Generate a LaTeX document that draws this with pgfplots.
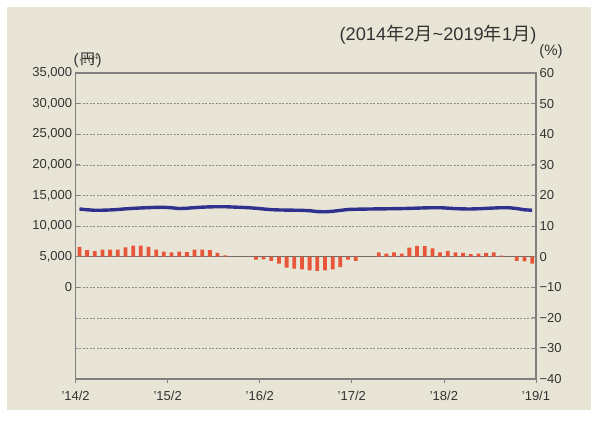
\documentclass[border=0pt]{standalone}
\usepackage{pgfplots}
\pgfplotsset{compat=1.18}
\usepackage{fontspec}
\setmainfont{Liberation Sans}
\newfontfamily\cjk{Noto Sans CJK JP}
\definecolor{panel}{HTML}{E9E5D6}
\definecolor{navy}{HTML}{30318F}
\definecolor{barred}{HTML}{E8563A}
\definecolor{axgray}{HTML}{808080}
\definecolor{txt}{HTML}{333333}
\pgfplotsset{
  base/.style={
    at={(75.6pt,42pt)}, anchor=south west,
    width=460.4pt, height=306pt, scale only axis,
    xmin=0, xmax=60,
    axis line style={axgray, line width=1.3pt},
    tick style={axgray, line width=0.8pt},
    major tick length=4pt,
    tick align=inside,
    tick label style={font=\fontsize{13}{13}\selectfont, text=txt},
    /pgf/number format/assume math mode=true,
  }
}
\begin{document}
\begin{tikzpicture}[x=1pt,y=1pt]
\fill[white] (0,0) rectangle (593,421);
\fill[panel] (7,11) rectangle (591,414);
% right axis: percent change (bars)
\begin{axis}[base,
  ymin=-40, ymax=60,
  ytick={-40,-30,...,60},
  yticklabels={−40,−30,−20,−10,0,10,20,30,40,50,60},
  ytick pos=right, yticklabel pos=right,
  xtick={0,12,24,36,48,60},
  xticklabels={’14/2,’15/2,’16/2,’17/2,’18/2,’19/1},
  xtick pos=bottom,
  xticklabel style={yshift=-5pt},
  ymajorgrids,
  major grid style={axgray!90, line width=0.6pt, dash pattern=on 2pt off 1.5pt},
  extra y ticks={0}, extra y tick labels={},
  extra y tick style={grid=major, major grid style={solid, axgray!85!black, line width=1.3pt}},
  ybar, bar width=3.8pt,
]
\addplot[fill=barred, draw=none] coordinates {
(0.5,3.2) (1.5,2.1) (2.5,1.8) (3.5,2.3) (4.5,2.3) (5.5,2.3) (6.5,3.0) (7.5,3.6) (8.5,3.6) (9.5,3.2)
(10.5,2.3) (11.5,1.6) (12.5,1.4) (13.5,1.6) (14.5,1.5) (15.5,2.3) (16.5,2.3) (17.5,2.1) (18.5,1.2) (19.5,0.4)
(20.5,0) (21.5,0) (22.5,0) (23.5,-1.0) (24.5,-0.9) (25.5,-1.4) (26.5,-2.3) (27.5,-3.6) (28.5,-3.9) (29.5,-4.2)
(30.5,-4.5) (31.5,-4.7) (32.5,-4.5) (33.5,-4.2) (34.5,-3.4) (35.5,-1.0) (36.5,-1.4) (37.5,0) (38.5,0) (39.5,1.4)
(40.5,1.0) (41.5,1.4) (42.5,1.0) (43.5,2.9) (44.5,3.5) (45.5,3.4) (46.5,2.7) (47.5,1.4) (48.5,1.9) (49.5,1.4)
(50.5,1.2) (51.5,0.8) (52.5,1.0) (53.5,1.2) (54.5,1.4) (55.5,0.3) (56.5,0) (57.5,-1.4) (58.5,-1.6) (59.5,-2.3)
};
\end{axis}
% left axis: yen (line)
\begin{axis}[base,
  ymin=-15000, ymax=35000,
  ytick={0,5000,...,35000},
  yticklabels={0,{5,000},{10,000},{15,000},{20,000},{25,000},{30,000},{35,000}},
  hide x axis, axis y line*=left,
]
\addplot[navy, line width=3.4pt, line join=round] coordinates {
(0.5,12780) (1.5,12650) (2.5,12570) (3.5,12580) (4.5,12620) (5.5,12700) (6.5,12800) (7.5,12880) (8.5,12950) (9.5,13000)
(10.5,13050) (11.5,13060) (12.5,12980) (13.5,12850) (14.5,12900) (15.5,13000) (16.5,13080) (17.5,13130) (18.5,13150) (19.5,13150)
(20.5,13100) (21.5,13050) (22.5,12990) (23.5,12900) (24.5,12780) (25.5,12670) (26.5,12620) (27.5,12600) (28.5,12580) (29.5,12560)
(30.5,12500) (31.5,12360) (32.5,12320) (33.5,12400) (34.5,12550) (35.5,12700) (36.5,12740) (37.5,12760) (38.5,12780) (39.5,12800)
(40.5,12810) (41.5,12830) (42.5,12850) (43.5,12880) (44.5,12920) (45.5,12960) (46.5,12990) (47.5,12990) (48.5,12920) (49.5,12840)
(50.5,12790) (51.5,12780) (52.5,12820) (53.5,12880) (54.5,12940) (55.5,12990) (56.5,12980) (57.5,12850) (58.5,12650) (59.5,12570)
};
\end{axis}
\node[text=txt, inner sep=0pt, font=\fontsize{15}{15}\selectfont] at (87.5,360.5) {(\kern1.5pt{\cjk 円}\kern1.5pt)};
\node[text=txt, inner sep=0pt, font=\fontsize{15}{15}\selectfont] at (551,369) {(\%)};
\node[text=txt, inner sep=0pt, font=\fontsize{18.2}{18.2}\selectfont] at (438,386) {(2014{\cjk 年}2{\cjk 月}\textasciitilde 2019{\cjk 年}1{\cjk 月})};
\end{tikzpicture}
\end{document}
